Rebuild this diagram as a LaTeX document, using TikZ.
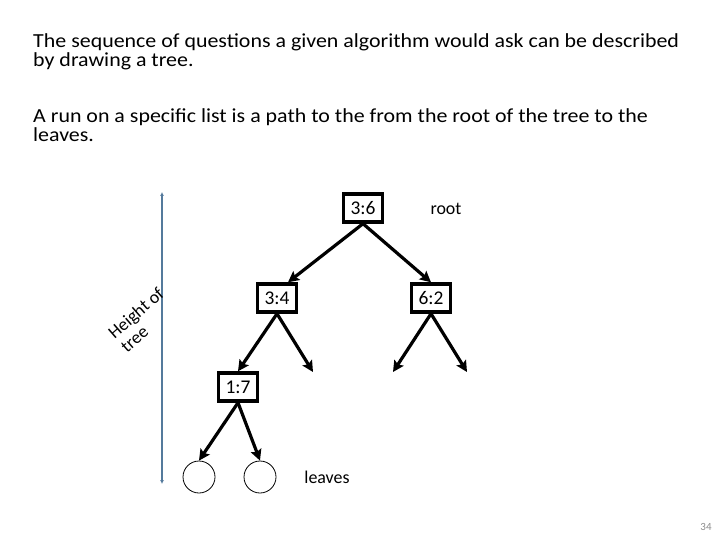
\documentclass[tikz,border=0pt]{standalone}
\usepackage{fontspec}
\setmainfont{Carlito}
\usetikzlibrary{arrows.meta}
\definecolor{heightblue}{RGB}{84,122,156}
\definecolor{pagegray}{RGB}{140,140,140}
\begin{document}
\begin{tikzpicture}[x=1bp, y=-1bp,
        cmpbox/.style={draw, line width=3.4bp, minimum width=39bp, minimum height=28bp, inner sep=0pt, font=\fontsize{19.5}{20}\selectfont},
        leaf/.style={draw, circle, line width=0.8bp, minimum size=32bp, inner sep=0pt},
        label/.style={font=\fontsize{18}{20}\selectfont},
        para/.style={anchor=base west, align=left, inner sep=0pt, xscale=1.1, font=\fontsize{20}{20}\selectfont},
        branch/.style={draw, line width=3.2bp, -{Stealth[length=11bp, width=11bp, inset=2bp]}}]
        \useasboundingbox (0,0) rectangle (720,540);

        % text at the top
        \node[para] (intro) at (33,67) {The sequence of questions a given algorithm would ask can be described\\by drawing a tree.};
        \node[para] (run) at (33,142) {A run on a specific list is a path to the from the root of the tree to the\\leaves.};

        % comparison nodes
        \node[cmpbox] (36) at (363,208) {3:6};
        \node[cmpbox] (34) at (277,298) {3:4};
        \node[cmpbox] (62) at (431,298) {6:2};
        \node[cmpbox] (17) at (238,387) {1:7};
        \node[leaf] (l1) at (199,477) {};
        \node[leaf] (l2) at (260,477) {};

        \node[label] (root) at (446,209) {root};
        \node[label] (leaves) at (327,477) {leaves};

        % open ends
        \coordinate (34r) at (313,372);
        \coordinate (62l) at (393,372);
        \coordinate (62r) at (467,372);

        \path[branch] (36.south) -- (34.55);
        \path[branch] (36.south) -- (62.north);
        \path[branch] (34.south) -- (17.north);
        \path[branch] (34.south) -- (34r);
        \path[branch] (62.south) -- (62l);
        \path[branch] (62.south) -- (62r);
        \path[branch] (17.south) -- (l1.north);
        \path[branch] (17.south) -- (l2.north);

        % height of the tree
        \coordinate (htop) at (162,192);
        \coordinate (hbot) at (162,484);
        \path[draw, heightblue, line width=2bp, {Latex[length=4bp, width=4bp]}-{Latex[length=4bp, width=4bp]}] (hbot) -- (htop);
        \node[rotate=41, align=left, inner sep=0pt, font=\fontsize{18}{19}\selectfont] (height) at (142,320) {Height of\\tree};

        \node[text=pagegray, font=\fontsize{11}{12}\selectfont] (page) at (706,527) {34};
    \end{tikzpicture}
\end{document}
